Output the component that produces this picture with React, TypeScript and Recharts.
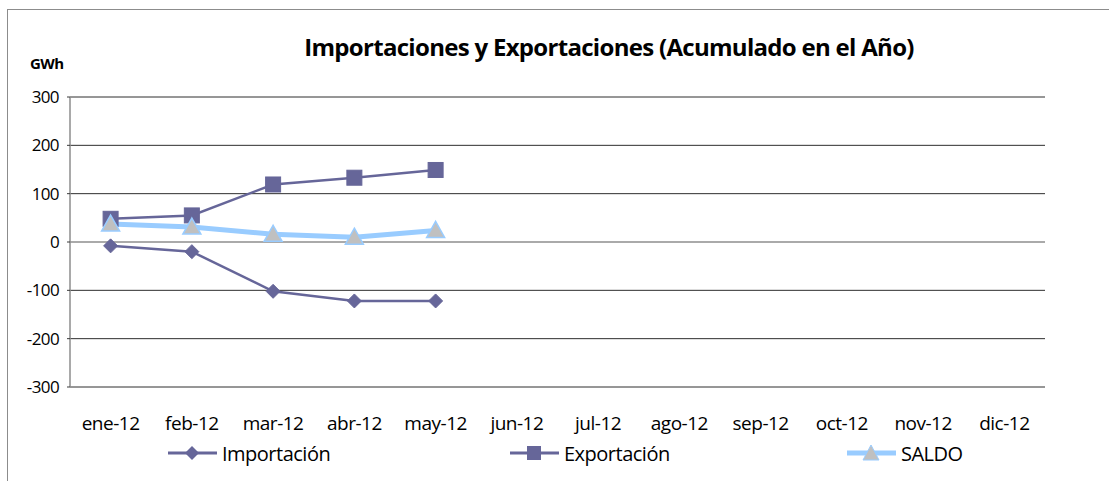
import React from 'react';
import { LineChart, Line, XAxis, YAxis, CartesianGrid, Legend, ReferenceLine } from 'recharts';

const months = ['ene-12', 'feb-12', 'mar-12', 'abr-12', 'may-12', 'jun-12', 'jul-12', 'ago-12', 'sep-12', 'oct-12', 'nov-12', 'dic-12'];
const importacion = [-8, -20, -102, -122, -122];
const exportacion = [48, 55, 119, 133, 149];
const saldo = [37, 31, 16, 10, 24];
const yTicks = [-300, -200, -100, 0, 100, 200, 300];

const data = months.map((m, i) => ({
  month: m,
  imp: importacion[i] ?? null,
  exp: exportacion[i] ?? null,
  saldo: saldo[i] ?? null,
}));

const FONT = '"Open Sans", "DejaVu Sans", sans-serif';
const SERIES = '#666699';
const SALDO_LINE = '#99CCFF';

const Diamond = (props: any) => {
  const { cx, cy, index } = props;
  if (cy == null) return <g key={index} />;
  const r = 7;
  return <polygon key={index} points={`${cx},${cy - r} ${cx + r},${cy} ${cx},${cy + r} ${cx - r},${cy}`} fill={SERIES} stroke={SERIES} />;
};

const Square = (props: any) => {
  const { cx, cy, index } = props;
  if (cy == null) return <g key={index} />;
  const r = 7.5;
  return <rect key={index} x={cx - r} y={cy - r} width={2 * r} height={2 * r} fill={SERIES} stroke={SERIES} />;
};

const Triangle = (props: any) => {
  const { cx, cy, index } = props;
  if (cy == null) return <g key={index} />;
  return <polygon key={index} points={`${cx},${cy - 9} ${cx + 9},${cy + 7} ${cx - 9},${cy + 7}`} fill="#C0C0C0" stroke={SALDO_LINE} strokeWidth={1.5} />;
};

const legendItems = [
  { name: 'Importación', left: 168, marker: 'diamond' },
  { name: 'Exportación', left: 510, marker: 'square' },
  { name: 'SALDO', left: 847, marker: 'triangle' },
];

const LegendContent = () => (
  <div style={{ position: 'relative', width: 1109, height: 24, fontFamily: FONT, fontSize: 20 }}>
    {legendItems.map((it) => (
      <div key={it.name} style={{ position: 'absolute', left: it.left, top: 0, display: 'flex', alignItems: 'center', height: 24 }}>
        <svg width={50} height={20}>
          <line x1={0} y1={10} x2={49} y2={10} stroke={it.marker === 'triangle' ? SALDO_LINE : SERIES} strokeWidth={it.marker === 'triangle' ? 5 : 3} />
          {it.marker === 'diamond' && <polygon points="24,3 31,10 24,17 17,10" fill={SERIES} />}
          {it.marker === 'square' && <rect x={17} y={3} width={14} height={14} fill={SERIES} />}
          {it.marker === 'triangle' && <polygon points="24,2 32,17 16,17" fill="#C0C0C0" stroke={SALDO_LINE} />}
        </svg>
        <span style={{ marginLeft: 4, color: '#000', letterSpacing: -0.5 }}>{it.name}</span>
      </div>
    ))}
  </div>
);

export default function App() {
  return (
    <div style={{ position: 'fixed', top: 0, left: 0, width: 1109, height: 481, background: '#fff', overflow: 'hidden', fontFamily: FONT }}>
      <div style={{ position: 'absolute', left: 7, top: 9, width: 1200, height: 600, border: '1.5px solid #8c8c8c' }} />
      <div style={{ position: 'absolute', left: 0, top: 30, width: 1218, textAlign: 'center', fontWeight: 700, fontSize: 24, letterSpacing: -0.7, color: '#000' }}>
        Importaciones y Exportaciones (Acumulado en el Año)
      </div>
      <div style={{ position: 'absolute', left: 30, top: 53, fontWeight: 700, fontSize: 15, letterSpacing: -0.6, color: '#000' }}>GWh</div>
      <div style={{ position: 'absolute', left: 0, top: 0 }}>
        <LineChart width={1109} height={481} data={data} margin={{ top: 97, right: 64, bottom: 46, left: 10 }}>
          <CartesianGrid horizontal vertical={false} stroke="#2e2e2e" strokeWidth={1} />
          <ReferenceLine y={0} stroke="#b0b0b0" strokeWidth={1.5} />
          <XAxis
            dataKey="month"
            axisLine={false}
            tickLine={false}
            height={24}
            interval={0}
            padding={{ left: 40.6, right: 40.6 }}
            tick={{ fill: '#000', fontSize: 19, fontFamily: FONT, letterSpacing: -0.5, dy: 22 } as any}
          />
          <YAxis
            domain={[-300, 300]}
            ticks={yTicks}
            width={60}
            axisLine={{ stroke: '#8c8c8c', strokeWidth: 1.5 }}
            tickLine={{ stroke: '#3a3a3a' }}
            tickSize={3}
            tick={{ fill: '#000', fontSize: 17, fontFamily: FONT, letterSpacing: -0.6, dx: -6 } as any}
          />
          <Legend verticalAlign="bottom" content={<LegendContent />} wrapperStyle={{ top: 441, left: 0, width: 1109 }} />
          <Line dataKey="imp" name="Importación" stroke={SERIES} strokeWidth={2.5} dot={Diamond} isAnimationActive={false} connectNulls={false} />
          <Line dataKey="exp" name="Exportación" stroke={SERIES} strokeWidth={2.5} dot={Square} isAnimationActive={false} connectNulls={false} />
          <Line dataKey="saldo" name="SALDO" stroke={SALDO_LINE} strokeWidth={5} dot={Triangle} isAnimationActive={false} connectNulls={false} />
        </LineChart>
      </div>
    </div>
  );
}
